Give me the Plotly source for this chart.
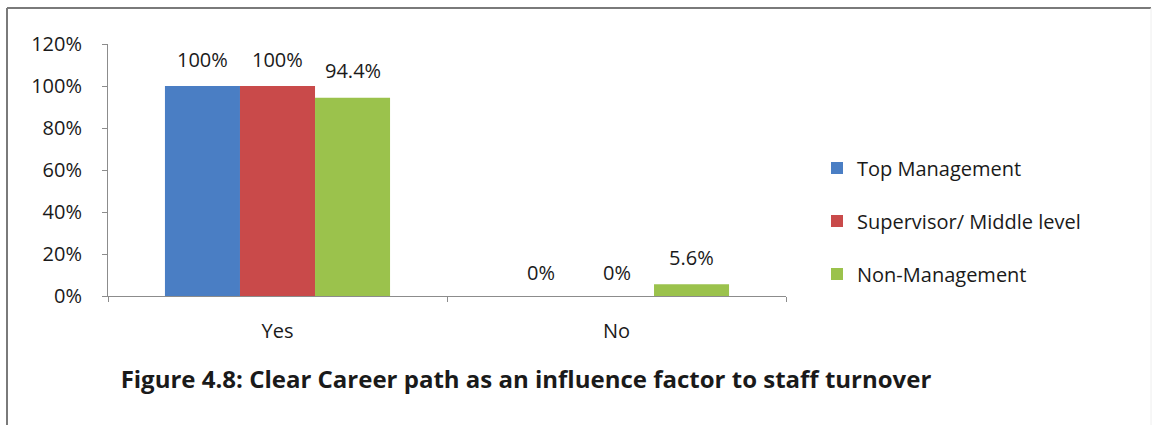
import plotly.graph_objects as go

# Survey responses: is a clear career path an influence factor?
categories = ["Yes", "No"]
series_names = ["Top Management", "Supervisor/ Middle level", "Non-Management"]
top_management = [100.0, 0.0]
supervisor_middle = [100.0, 0.0]
non_management = [94.4, 5.6]
value_labels = [["100%", "0%"], ["100%", "0%"], ["94.4%", "5.6%"]]
y_tick_values = [0, 20, 40, 60, 80, 100, 120]
y_tick_labels = ["0%", "20%", "40%", "60%", "80%", "100%", "120%"]

colors = ["#4A7EC4", "#C94A4A", "#9BC24C"]
series_values = [top_management, supervisor_middle, non_management]

W, H = 1156, 425
L, R, T, B = 108, 370, 44, 129
plot_w = W - L - R
plot_h = H - T - B

FONT = "Open Sans"
TEXT = "#1a1a1a"
AXIS = "#8c8c8c"

fig = go.Figure()
for i, (name, vals) in enumerate(zip(series_names, series_values)):
    fig.add_trace(go.Bar(
        x=categories, y=vals, name=name,
        marker=dict(color=colors[i], line=dict(width=0)),
        legendgroup=f"g{i}",
    ))

# value labels above each bar
bargap = 0.336
bar_px = plot_w / len(categories) * (1 - bargap) / len(series_names)
for i, vals in enumerate(series_values):
    for c, v in enumerate(vals):
        fig.add_annotation(
            x=categories[c], y=v, text=value_labels[i][c],
            xref="x", yref="y", showarrow=False,
            xshift=(i - 1) * bar_px, yshift=27 if v > 0 else 24,
            yanchor="middle", xanchor="center",
            font=dict(family=FONT, size=20, color=TEXT),
        )

def px_x(px):
    return (px - L) / plot_w

def px_y(py):
    return (H - B - py) / plot_h

# frame around the figure
fig.add_shape(type="line", xref="paper", yref="paper",
              x0=px_x(7), x1=px_x(1151), y0=px_y(8), y1=px_y(8),
              line=dict(color="#7a7a7a", width=2))
fig.add_shape(type="line", xref="paper", yref="paper",
              x0=px_x(7), x1=px_x(7), y0=px_y(8), y1=px_y(425),
              line=dict(color="#7a7a7a", width=2))
fig.add_shape(type="line", xref="paper", yref="paper",
              x0=px_x(1151), x1=px_x(1151), y0=px_y(8), y1=px_y(425),
              line=dict(color="#eeeeee", width=1))

fig.update_layout(
    width=W, height=H,
    margin=dict(l=L, r=R, t=T, b=B),
    paper_bgcolor="white", plot_bgcolor="white",
    barmode="group", bargap=bargap, bargroupgap=0,
    font=dict(family=FONT, size=20, color=TEXT),
    title=dict(
        text="<b>Figure 4.8: Clear Career path as an influence factor to staff turnover</b>",
        x=526 / W, y=1 - 380 / H, xanchor="center", yanchor="middle",
        font=dict(family=FONT, size=24, color=TEXT),
    ),
    legend=dict(
        x=px_x(817), y=px_y(221), xanchor="left", yanchor="middle",
        font=dict(family=FONT, size=20, color=TEXT),
        traceorder="grouped", tracegroupgap=24,
        itemwidth=30, bgcolor="rgba(0,0,0,0)",
    ),
    xaxis=dict(
        type="category", showline=True, linecolor=AXIS, linewidth=1,
        ticks="outside", tickson="boundaries", ticklen=5, tickcolor=AXIS,
        ticklabelstandoff=17, showgrid=False, zeroline=False,
        tickfont=dict(family=FONT, size=20, color=TEXT),
    ),
    yaxis=dict(
        range=[0, 120], tickvals=y_tick_values, ticktext=y_tick_labels,
        showline=True, linecolor=AXIS, linewidth=1,
        ticks="outside", ticklen=5, tickcolor=AXIS,
        ticklabelstandoff=16, showgrid=False, zeroline=False,
        tickfont=dict(family=FONT, size=20, color=TEXT),
    ),
)

fig.write_html("out.html")
